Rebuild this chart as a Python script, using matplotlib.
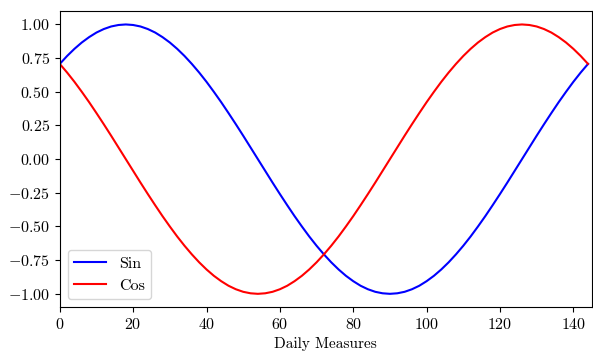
import numpy as np
from matplotlib import pyplot as plt
from matplotlib.ticker import MultipleLocator

plt.rcParams['font.family'] = 'serif'
plt.rcParams['font.serif'] = ['cmr10']
plt.rcParams['mathtext.fontset'] = 'cm'
plt.rcParams['axes.formatter.use_mathtext'] = True
plt.rcParams['font.size'] = 11

# one reading every 2 days, day 0..144
days = np.arange(0, 146, 2)
sin_vals = [0.707, 0.766, 0.819, 0.866, 0.906, 0.940, 0.966, 0.985, 0.996, 1.000,
            0.996, 0.985, 0.966, 0.940, 0.906, 0.866, 0.819, 0.766, 0.707, 0.643,
            0.574, 0.500, 0.423, 0.342, 0.259, 0.174, 0.087, 0.000, -0.087, -0.174,
            -0.259, -0.342, -0.423, -0.500, -0.574, -0.643, -0.707, -0.766, -0.819, -0.866,
            -0.906, -0.940, -0.966, -0.985, -0.996, -1.000, -0.996, -0.985, -0.966, -0.940,
            -0.906, -0.866, -0.819, -0.766, -0.707, -0.643, -0.574, -0.500, -0.423, -0.342,
            -0.259, -0.174, -0.087, 0.000, 0.087, 0.174, 0.259, 0.342, 0.423, 0.500,
            0.574, 0.643, 0.707]
cos_vals = [0.707, 0.643, 0.574, 0.500, 0.423, 0.342, 0.259, 0.174, 0.087, 0.000,
            -0.087, -0.174, -0.259, -0.342, -0.423, -0.500, -0.574, -0.643, -0.707, -0.766,
            -0.819, -0.866, -0.906, -0.940, -0.966, -0.985, -0.996, -1.000, -0.996, -0.985,
            -0.966, -0.940, -0.906, -0.866, -0.819, -0.766, -0.707, -0.643, -0.574, -0.500,
            -0.423, -0.342, -0.259, -0.174, -0.087, 0.000, 0.087, 0.174, 0.259, 0.342,
            0.423, 0.500, 0.574, 0.643, 0.707, 0.766, 0.819, 0.866, 0.906, 0.940,
            0.966, 0.985, 0.996, 1.000, 0.996, 0.985, 0.966, 0.940, 0.906, 0.866,
            0.819, 0.766, 0.707]

fig = plt.figure(figsize=(5.93, 3.51), dpi=100)
ax = fig.add_axes([0.1008, 0.1245, 0.897, 0.8442])
ax.plot(days, sin_vals, color='blue', lw=1.5, label='Sin')
ax.plot(days, cos_vals, color='red', lw=1.5, label='Cos')
ax.set_xlim(0, 145)
ax.yaxis.set_major_locator(MultipleLocator(0.25))
ax.xaxis.set_major_locator(MultipleLocator(20))
ax.tick_params(labelsize=11.5)
ax.set_xlabel('Daily Measures', labelpad=3.5)
ax.legend(loc='lower left', fontsize=11.5)

plt.savefig('out.png', dpi=100)
